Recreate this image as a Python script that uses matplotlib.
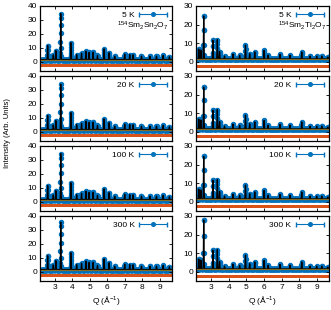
import numpy as np
import matplotlib
matplotlib.use('Agg')
from matplotlib import pyplot as plt
from matplotlib.legend_handler import HandlerErrorbar

plt.rcParams['font.family'] = ['Liberation Sans', 'DejaVu Sans']
plt.rcParams['mathtext.fontset'] = 'custom'
plt.rcParams['mathtext.rm'] = 'Liberation Sans'
plt.rcParams['mathtext.it'] = 'Liberation Sans:italic'
plt.rcParams['font.size'] = 6

OBS_COLOR = '#0072bd'
DIFF_COLOR = '#d95319'
BG_COLOR = '#86691f'
PEAK_WIDTH = 0.013

temps = ['5 K', '20 K', '100 K', '300 K']
compounds = [r'$^{154}$Sm$_2$Sn$_2$O$_7$', r'$^{154}$Sm$_2$Ti$_2$O$_7$']

# peak positions / heights above background
sn_peak_q = [2.58, 2.90, 3.05, 3.33, 3.91, 4.24, 4.52, 4.77, 4.95, 5.18, 5.43,
             5.81, 6.10, 6.42, 6.99, 7.28, 7.47, 7.95, 8.43, 8.81, 9.19, 9.55]
sn_peak_h = [10.5, 3.5, 6.5, 33.5, 12.3, 3.5, 4.5, 6.0, 5.2, 5.5, 3.0,
             7.8, 5.2, 2.5, 4.0, 3.5, 3.5, 2.5, 2.5, 2.5, 3.0, 2.0]
sn_main_h = [33.5, 33.0, 33.5, 34.5]   # strongest peak at each temperature

ti_peak_q = [2.30, 2.42, 2.58, 3.10, 3.35, 3.48, 3.76, 4.24, 4.62, 4.95, 5.19,
             5.48, 6.01, 6.24, 6.91, 7.48, 8.15, 8.62, 9.00, 9.29, 9.63]
ti_peak_h = [5.5, 5.0, 24.2, 10.5, 10.5, 4.0, 1.5, 2.6, 2.0, 7.5, 2.8,
             3.8, 4.6, 2.0, 2.5, 2.0, 3.8, 1.5, 1.5, 1.5, 1.0]
ti_main_h = [24.2, 23.5, 24.0, 27.5]

background = 1.5
diff_offset = -2.4
q_start, q_end, q_step = 2.2, 9.72, 0.008

ylims = [(-6.7, 40), (-5, 30)]
yticks = [[0, 10, 20, 30, 40], [0, 10, 20, 30]]
xlim = (2.14, 9.7)


def pattern(p_q, p_peakQ, p_peakH):
    y = np.full_like(p_q, background)
    for pq, ph in zip(p_peakQ, p_peakH):
        y += ph * np.exp(-0.5 * ((p_q - pq) / PEAK_WIDTH) ** 2)
    return y


q = np.arange(q_start, q_end, q_step)
peak_sets = [(sn_peak_q, sn_peak_h, sn_main_h), (ti_peak_q, ti_peak_h, ti_main_h)]

fig = plt.figure(figsize=(3.31, 3.10), dpi=100)
W, H = 331.0, 310.0
col_x = [(40, 132), (196, 133)]

for col in range(2):
    peakQ, peakH, mainH = peak_sets[col]
    main_idx = int(np.argmax(peakH))
    for row in range(4):
        top = 6 + row * 70
        x0, w = col_x[col]
        ax = fig.add_axes([x0 / W, 1 - (top + 65) / H, w / W, 65 / H])

        heights = list(peakH)
        heights[main_idx] = mainH[row]
        calc = pattern(q, peakQ, heights)
        obs = calc.copy()

        ax.errorbar(q, obs, yerr=0.9, fmt='o', ms=2.9, color=OBS_COLOR,
                    elinewidth=0.5, capsize=0, zorder=1)
        ax.plot(q, calc, color='black', lw=0.9, zorder=2)
        ax.plot(q, np.full_like(q, background), color=BG_COLOR, lw=0.9, zorder=3)
        ax.plot(q, obs - calc + diff_offset, color=DIFF_COLOR, lw=0.8,
                marker='o', ms=0.6, zorder=2)

        # proxy for the key sample (horizontal bar with caps)
        ax.errorbar([np.nan], [np.nan], xerr=[1], fmt='o', ms=2.6, color=OBS_COLOR,
                    elinewidth=0.8, capsize=1.8, label=temps[row])
        ax.legend(loc='upper right', frameon=False, markerfirst=False,
                  handlelength=3.4, handletextpad=0.5, borderaxespad=0.2,
                  fontsize=6, handler_map={type(ax.containers[-1]): HandlerErrorbar(xerr_size=1.65)})
        if row == 0:
            ax.text(0.975, 0.69, compounds[col], transform=ax.transAxes,
                    ha='right', va='center', fontsize=6)

        ax.set_xlim(*xlim)
        ax.set_ylim(*ylims[col])
        ax.set_xticks(range(3, 10))
        ax.set_yticks(yticks[col])
        ax.tick_params(direction='in', top=True, right=True, length=2.5,
                       width=0.6, pad=2, labelsize=6)
        for sp in ax.spines.values():
            sp.set_linewidth(0.9)
        if row < 3:
            ax.set_xticklabels([])
        else:
            ax.set_xlabel(r'Q ($\mathrm{\AA}^{-1}$)', fontsize=6, labelpad=2)

fig.text(0.024, 0.571, 'Intensity (Arb. Units)', rotation=90,
         ha='center', va='center', fontsize=5.5)

plt.savefig('out.png', dpi=100)
plt.close('all')
